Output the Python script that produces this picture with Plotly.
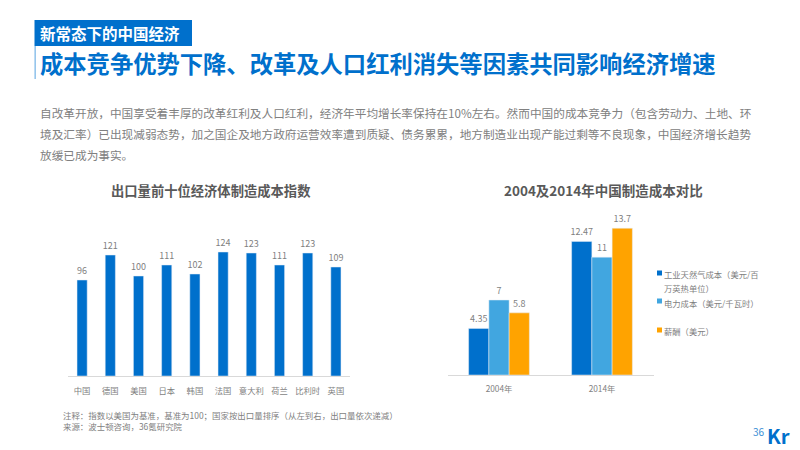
import plotly.graph_objects as go

W, H = 800, 450

countries = ["中国", "德国", "美国", "日本", "韩国", "法国", "意大利", "荷兰", "比利时", "英国"]
cost_index = [96, 121, 100, 111, 102, 124, 123, 111, 123, 109]

years = ["2004年", "2014年"]
gas_cost = [4.35, 12.47]
power_cost = [7, 11]
wage_cost = [5.8, 13.7]
gas_labels = ["4.35", "12.47"]
power_labels = ["7", "11"]
wage_labels = ["5.8", "13.7"]

tag_text = "新常态下的中国经济"
headline = "成本竞争优势下降、改革及人口红利消失等因素共同影响经济增速"
body_lines = [
    "自改革开放，中国享受着丰厚的改革红利及人口红利，经济年平均增长率保持在10%左右。然而中国的成本竞争力（包含劳动力、土地、环",
    "境及汇率）已出现减弱态势，加之国企及地方政府运营效率遭到质疑、债务累累，地方制造业出现产能过剩等不良现象，中国经济增长趋势",
    "放缓已成为事实。",
]
left_title = "出口量前十位经济体制造成本指数"
right_title = "2004及2014年中国制造成本对比"
notes = [
    "注释：指数以美国为基准，基准为100；国家按出口量排序（从左到右，出口量依次递减）",
    "来源：波士顿咨询，36氪研究院",
]
legend_lines = [
    ("工业天然气成本（美元/百", 274),
    ("万英热单位）", 288),
    ("电力成本（美元/千瓦时）", 302.5),
    ("薪酬（美元）", 331),
]
legend_swatches = [(273, "#0070cc"), (301, "#41a6e0"), (330, "#ffa300")]

BLUE, LIGHT, ORANGE = "#0070cc", "#41a6e0", "#ffa300"
FONT = "Noto Sans CJK SC"
GREY = "#7f7f7f"

def px(x): return x / W
def py(y): return 1 - y / H

fig = go.Figure()
fig.add_bar(x=countries, y=cost_index, marker_color=BLUE, text=cost_index,
            textposition="outside", cliponaxis=False, xaxis="x", yaxis="y", constraintext="none",
            textfont=dict(size=9, color=GREY, family=FONT))
for vals, labs, col in [(gas_cost, gas_labels, BLUE), (power_cost, power_labels, LIGHT), (wage_cost, wage_labels, ORANGE)]:
    fig.add_bar(x=years, y=vals, marker_color=col, text=labs, textposition="outside",
                cliponaxis=False, xaxis="x2", yaxis="y2", constraintext="none",
                textfont=dict(size=9, color=GREY, family=FONT))

axis_common = dict(showgrid=False, zeroline=False, showline=True, linecolor="#d9d9d9", linewidth=1,
                   ticks="", tickfont=dict(size=8.3, color=GREY, family=FONT), fixedrange=True)
yaxis_common = dict(visible=False, showgrid=False, zeroline=False, fixedrange=True)

anns = []
def text(x, y, s, size, color=GREY, anchor="left", bold=False):
    anns.append(dict(x=px(x), y=py(y), xref="paper", yref="paper", text=f"<b>{s}</b>" if bold else s,
                     showarrow=False, xanchor=anchor, yanchor="middle", borderpad=0, borderwidth=0,
                     align="left", font=dict(size=size, color=color, family=FONT)))

text(40, 33, tag_text, 15.5, "#ffffff", bold=True)
text(40, 63, headline, 23.3, BLUE, bold=True)
for yy, s in zip([113, 134, 154], body_lines):
    text(40, yy, s, 11.66, "#808080")
text(211, 190, left_title, 13.3, "#595959", "center", True)
text(603, 190, right_title, 13.5, "#595959", "center", True)
text(63, 420.5, "<br>".join(notes), 8.45, GREY)
for s, yy in legend_lines:
    text(664, yy, s, 8.3, GREY)
text(753, 431, "36", 10, "#3b8fd6")
text(767, 435, "Kr", 20, BLUE, bold=True)

shapes = [
    dict(type="rect", xref="paper", yref="paper", x0=px(34.5), x1=px(192), y0=py(20), y1=py(46),
         fillcolor=BLUE, line_width=0),
    dict(type="rect", xref="paper", yref="paper", x0=px(34.5), x1=px(35.8), y0=py(46), y1=py(79),
         fillcolor="#7db8e8", line_width=0),
]
for yy, col in legend_swatches:
    shapes.append(dict(type="rect", xref="paper", yref="paper", x0=px(657), x1=px(662),
                       y0=py(yy + 2.5), y1=py(yy - 2.5), fillcolor=col, line_width=0))

fig.update_layout(
    width=W, height=H, margin=dict(l=0, r=0, t=0, b=0), autosize=False,
    paper_bgcolor="white", plot_bgcolor="white", showlegend=False, barmode="group",
    font=dict(family=FONT),
    xaxis=dict(domain=[px(68), px(350)], anchor="y", ticklabelstandoff=7, **axis_common),
    yaxis=dict(domain=[py(376), py(226)], range=[0, 150], anchor="x", **yaxis_common),
    xaxis2=dict(domain=[px(447.5), px(653.5)], anchor="y2", ticklabelstandoff=6, **axis_common),
    yaxis2=dict(domain=[py(375), py(225)], range=[0, 14], anchor="x2", **yaxis_common),
    bargap=0.41, annotations=anns, shapes=shapes,
)
fig.data[0].width = 0.36
fig.write_html("out.html", config={"displayModeBar": False}, post_script="document.body.style.margin='0';")
